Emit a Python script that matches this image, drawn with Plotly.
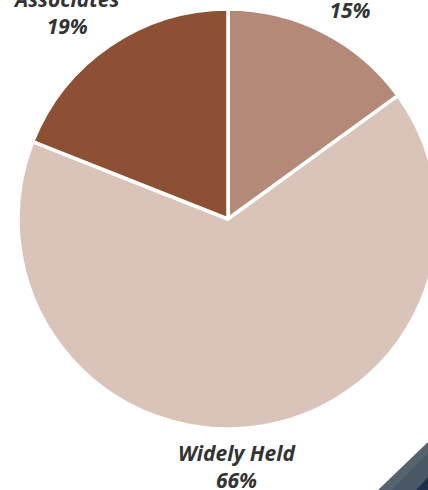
import plotly.graph_objects as go

# Data
categories = ["Family", "Widely Held", "Associates"]
shares = [15, 66, 19]
colors = ["#B58978", "#DAC4BA", "#8E5035"]

W, H = 448, 490

fig = go.Figure(go.Pie(
    labels=categories,
    values=shares,
    sort=False,
    direction="clockwise",
    rotation=0,
    textinfo="none",
    hoverinfo="label+percent",
    marker=dict(colors=colors, line=dict(color="white", width=3.5)),
    domain=dict(x=[18 / W, 438 / W], y=[61 / H, 481 / H]),
    showlegend=False,
))

# label block centres (pixels from top-left)
label_pos = {"Family": (350, -3), "Widely Held": (237, 466), "Associates": (66, 13)}

annotations = []
for cat, val in zip(categories, shares):
    px, py = label_pos[cat]
    annotations.append(dict(
        x=px / W, y=1 - py / H, xref="paper", yref="paper",
        text=f"{cat}<br>{val}%", showarrow=False,
        xanchor="center", yanchor="middle",
        font=dict(family="Open Sans", size=21, color="#333333",
                  weight="bold", style="italic"),
    ))

def path(pts):
    return "M " + " L ".join(f"{x / W},{1 - y / H}" for x, y in pts) + " Z"

shapes = [
    dict(type="path", xref="paper", yref="paper", layer="above",
         path=path([(378, 490), (430, 440), (448, 440), (448, 490)]),
         fillcolor="#56636F", line=dict(width=0)),
    dict(type="path", xref="paper", yref="paper", layer="above",
         path=path([(392, 490), (424, 457), (430, 452), (448, 452), (448, 490)]),
         fillcolor="#4A5866", line=dict(width=0)),
    dict(type="path", xref="paper", yref="paper", layer="above",
         path=path([(416, 490), (430, 475), (448, 475), (448, 490)]),
         fillcolor="#1C3048", line=dict(width=0)),
]

fig.update_layout(
    width=W, height=H, autosize=False,
    margin=dict(l=0, r=0, t=0, b=0),
    paper_bgcolor="white", plot_bgcolor="white",
    annotations=annotations, shapes=shapes,
)

fig.write_html("out.html",
               post_script="document.documentElement.style.overflow='hidden';document.body.style.overflow='hidden';document.body.style.margin='0';")
